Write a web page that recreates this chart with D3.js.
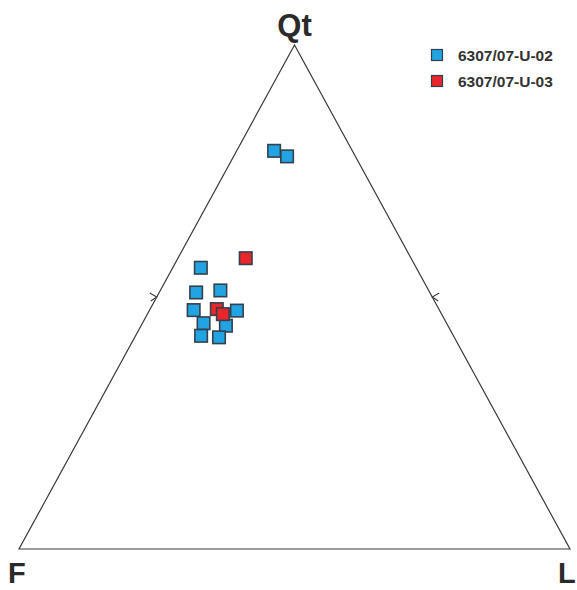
<!DOCTYPE html>
<html><head><meta charset="utf-8">
<script src="https://cdn.jsdelivr.net/npm/d3@7"></script>
<style>html,body{margin:0;padding:0;background:#fff;}svg{display:block;}</style>
</head><body>
<svg id="chart" width="577" height="590"></svg>
<script>
// Data (percent Qt, F, L)
const vertexLabels = ["Qt", "F", "L"];
const seriesNames = ["6307/07-U-02", "6307/07-U-03"];
const seriesColors = ["#22a3e3", "#e8262b"];
const u02_Qt = [79.0, 77.9, 55.8, 50.9, 51.3, 47.4, 47.3, 44.8, 44.3, 42.3, 42.0];
const u02_F  = [14.2, 12.4, 39.1, 42.4, 37.8, 44.6, 36.8, 44.1, 40.3, 45.8, 42.7];
const u02_L  = [ 6.8,  9.7,  5.1,  6.7, 10.9,  8.0, 15.9, 11.1, 15.4, 11.9, 15.3];
const u03_Qt = [57.7, 47.6, 46.6];
const u03_F  = [30.0, 40.3, 39.7];
const u03_L  = [12.3, 12.1, 13.7];

const svg = d3.select("#chart");
// unit cartesian: x = L + Qt/2 (fractions), y = Qt
const xScale = d3.scaleLinear().domain([0, 1]).range([19, 570]);
const yScale = d3.scaleLinear().domain([0, 1]).range([549, 45]);
function proj(qt, f, l) {
  const s = qt + f + l;
  const q = qt / s, ll = l / s;
  return [xScale(ll + q / 2), yScale(q)];
}
const A = proj(100, 0, 0), B = proj(0, 100, 0), C = proj(0, 0, 100);

svg.append("path")
  .attr("d", d3.line()([A, B, C]) + "Z")
  .attr("fill", "none").attr("stroke", "#3a3a3a").attr("stroke-width", 1.2);

// midpoint tick marks
const mL = proj(50, 50, 0), mR = proj(50, 0, 50);
const ticks = [
  [[mL[0] - 7, mL[1] - 4], mL, [mL[0] - 6, mL[1] + 4]],
  [[mR[0] + 7, mR[1] - 4], mR, [mR[0] + 6, mR[1] + 4]]
];
ticks.forEach(t => svg.append("path").attr("d", d3.line()(t))
  .attr("fill", "none").attr("stroke", "#3a3a3a").attr("stroke-width", 1.1));

// vertex labels
const lab = svg.append("g").attr("font-family", "Liberation Sans, Arial, sans-serif")
  .attr("font-weight", "bold").attr("fill", "#2a2a2a");
lab.append("text").attr("x", A[0]).attr("y", 36).attr("text-anchor", "middle")
  .attr("font-size", 31).text(vertexLabels[0]);
lab.append("text").attr("x", 8).attr("y", 583).attr("font-size", 29).text(vertexLabels[1]);
lab.append("text").attr("x", 558).attr("y", 583).attr("font-size", 29).text(vertexLabels[2]);

const sz = 12.5;
function drawSeries(qt, f, l, color) {
  svg.append("g").selectAll("rect").data(qt.map((d, i) => proj(d, f[i], l[i])))
    .join("rect")
    .attr("x", d => d[0] - sz / 2).attr("y", d => d[1] - sz / 2)
    .attr("width", sz).attr("height", sz)
    .attr("fill", color).attr("stroke", "#33414d").attr("stroke-width", 1.6);
}
drawSeries(u02_Qt, u02_F, u02_L, seriesColors[0]);
drawSeries(u03_Qt, u03_F, u03_L, seriesColors[1]);

// legend
const leg = svg.append("g");
seriesNames.forEach((n, i) => {
  const cy = 55 + i * 26;
  leg.append("rect").attr("x", 431.5).attr("y", cy - 5.5).attr("width", 11).attr("height", 11)
    .attr("fill", seriesColors[i]).attr("stroke", "#33414d").attr("stroke-width", 1.2);
  leg.append("text").attr("x", 458).attr("y", cy + 6)
    .attr("font-family", "Liberation Sans, Arial, sans-serif").attr("font-weight", "bold")
    .attr("font-size", 15.5).attr("fill", "#333").text(n);
});
</script>
</body></html>
